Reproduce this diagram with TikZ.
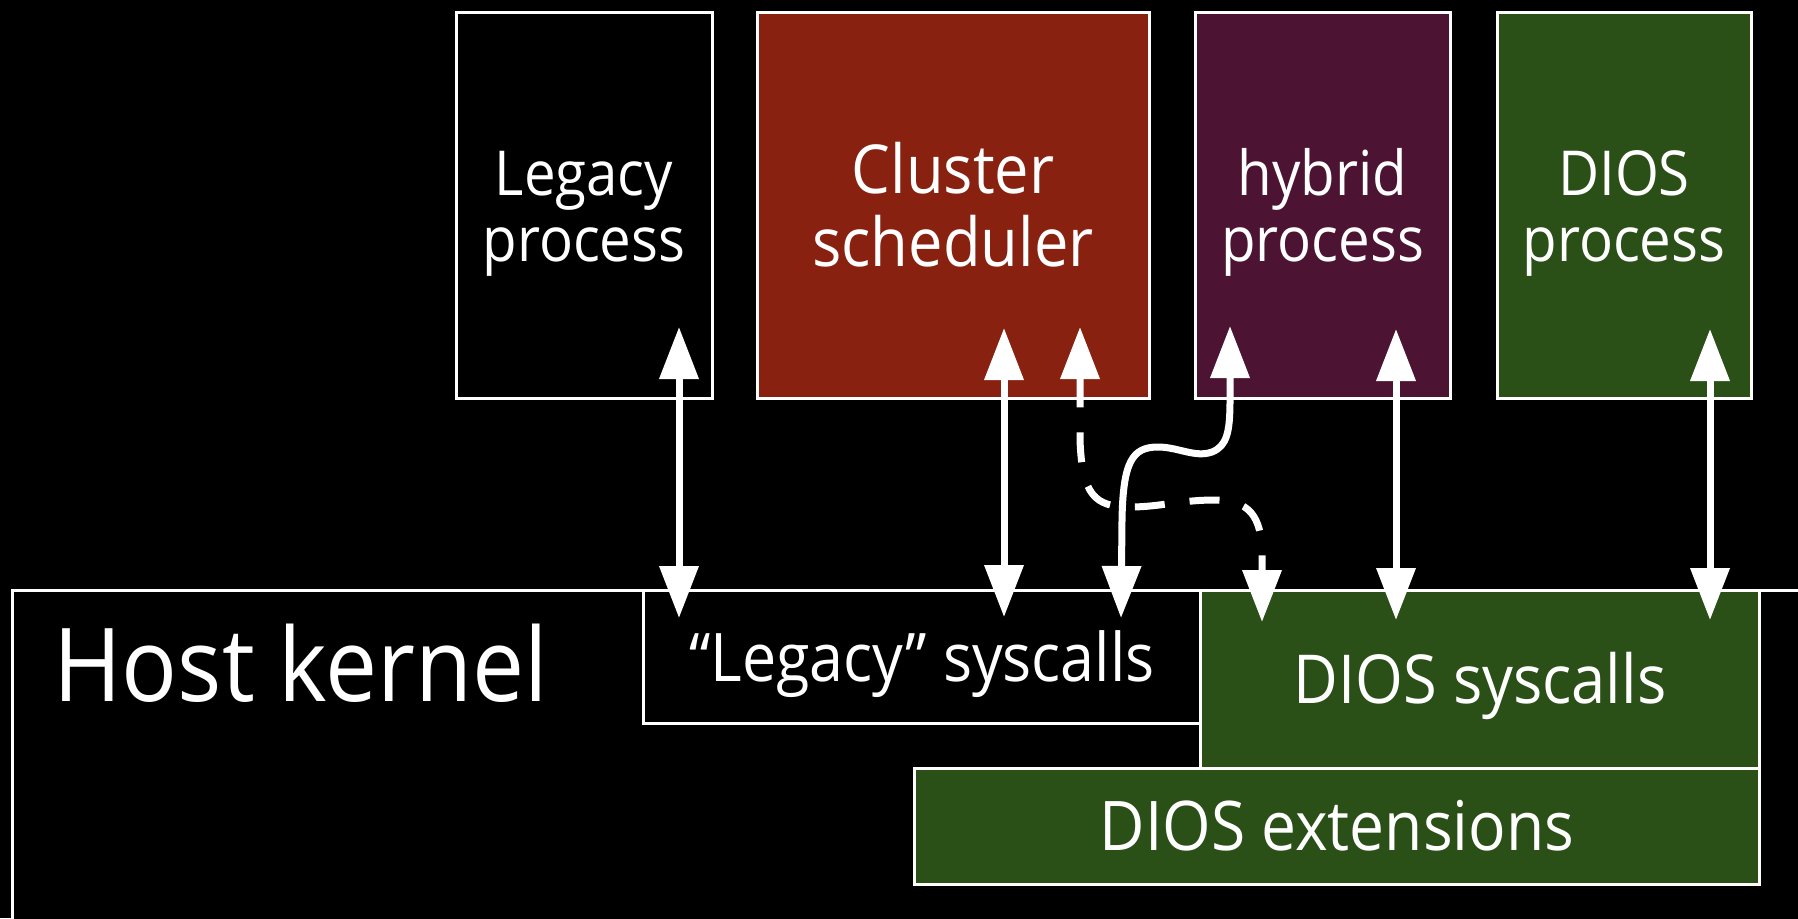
\documentclass[tikz,border=0pt]{standalone}
\usepackage{fontspec}
\setmainfont[FakeStretch=0.91]{Open Sans}
\usetikzlibrary{arrows.meta}
\definecolor{clred}{HTML}{88210F}
\definecolor{hybpurple}{HTML}{4C1332}
\definecolor{diosgreen}{HTML}{2A4F17}
\newcommand{\topstrut}[1]{\rule{0pt}{#1pt}}
\newcommand{\botstrut}[1]{\rule[-#1pt]{0pt}{#1pt}}
\begin{document}
\begin{tikzpicture}[x=1pt,y=-1pt,
  box/.style={draw=white, line width=3pt, text=white, inner sep=0pt, align=center},
  procfont/.style={font={\fontsize{62}{66}\selectfont}},
  tipA/.tip={Triangle[length=52pt,width=38pt]},
  dbl/.style={draw=white, line width=7pt, tipA-tipA},
  dashconn/.style={draw=white, line width=7pt, dash pattern=on 30pt off 25pt, tipA-tipA}]
\fill[black] (0,0) rectangle (1798,918);
\useasboundingbox (0,0) rectangle (1798,918);

% kernel layer
\node[box, fill=black, minimum width=1790pt, minimum height=332pt, anchor=north west] (host) at (11,589) {};
\node[text=white, anchor=base west, font={\fontsize{102}{110}\selectfont}, inner sep=0pt] (hostlabel) at (53,701) {Host kernel};
\node[box, fill=black, minimum width=557pt, minimum height=133pt, anchor=north west, text height=49pt, text depth=0pt,
      font={\fontsize{67}{74}\selectfont}] (legsys) at (642,589) {“Legacy” syscalls};
\node[box, fill=diosgreen, minimum width=559pt, minimum height=178pt, anchor=north west, text height=48pt, text depth=0pt,
      font={\fontsize{67.5}{74}\selectfont}] (diossys) at (1199,589) {DIOS syscalls};
\node[box, fill=diosgreen, minimum width=845pt, minimum height=116pt, anchor=north west, text height=47pt, text depth=0pt,
      font={\fontsize{68.5}{76}\selectfont}] (diosext) at (913,767) {DIOS extensions};

% processes
\node[box, fill=black, procfont, minimum width=256pt, minimum height=386pt] (legproc) at (584,205)
  {\topstrut{62}Legacy\\process\botstrut{16}};
\node[box, fill=clred, font={\fontsize{67.5}{73}\selectfont}, minimum width=392pt, minimum height=386pt] (clsched) at (953,205)
  {\topstrut{65}Cluster\\scheduler\botstrut{16}};
\node[box, fill=hybpurple, procfont, minimum width=255pt, minimum height=386pt] (hybproc) at (1322.5,205)
  {\topstrut{62}hybrid\\process\botstrut{16}};
\node[box, fill=diosgreen, procfont, minimum width=254pt, minimum height=386pt] (diosproc) at (1624,205)
  {\topstrut{62}DIOS\\process\botstrut{16}};

% connector end points
\coordinate (lpT) at (679,327);   \coordinate (lpB) at (679,618);
\coordinate (csT) at (1004,328);  \coordinate (csB) at (1004,617);
\coordinate (dsT) at (1080,327);  \coordinate (dsB) at (1262,622);
\coordinate (hyT) at (1230,326);  \coordinate (hyB) at (1121,618);
\coordinate (hdT) at (1396,329);  \coordinate (hdB) at (1396,620);
\coordinate (dpT) at (1710,329);  \coordinate (dpB) at (1710,620);

\draw[dbl] (lpT) -- (lpB);
\draw[dbl] (csT) -- (csB);
\draw[dbl] (hdT) -- (hdB);
\draw[dbl] (dpT) -- (dpB);
\draw[dbl] (hyT) -- (1230,400) .. controls (1230,432) and (1227,446) .. (1212,452)
   .. controls (1195,458) and (1178,447) .. (1158,447)
   .. controls (1132,447) and (1123,462) .. (1122,520) -- (hyB);
\draw[dashconn] (dsT) -- (1080,440) .. controls (1082,495) and (1095,507) .. (1130,507)
   .. controls (1160,507) and (1180,500) .. (1215,500)
   .. controls (1248,500) and (1262,515) .. (1262,555) -- (dsB);
\end{tikzpicture}
\end{document}
